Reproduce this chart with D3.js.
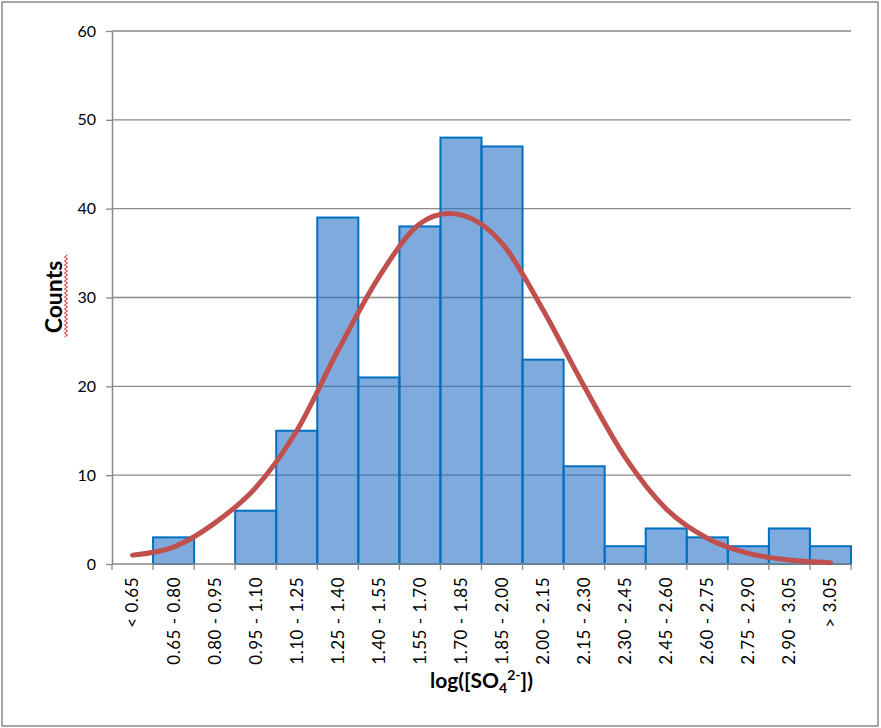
<!DOCTYPE html>
<html>
<head>
<meta charset="utf-8">
<script src="https://cdn.jsdelivr.net/npm/d3@7"></script>
<style>
  html, body { margin: 0; padding: 0; background: #fff; }
  svg { display: block; }
  text { font-family: Lato, "Open Sans", sans-serif; fill: #000; }
</style>
</head>
<body>
<svg id="chart" width="881" height="728"></svg>
<script>
// Histogram bins of log([SO4 2-])
const bins = ["< 0.65", "0.65 - 0.80", "0.80 - 0.95", "0.95 - 1.10", "1.10 - 1.25",
  "1.25 - 1.40", "1.40 - 1.55", "1.55 - 1.70", "1.70 - 1.85", "1.85 - 2.00",
  "2.00 - 2.15", "2.15 - 2.30", "2.30 - 2.45", "2.45 - 2.60", "2.60 - 2.75",
  "2.75 - 2.90", "2.90 - 3.05", "> 3.05"];
// Observed counts per bin
const counts = [0, 3, 0, 6, 15, 39, 21, 38, 48, 47, 23, 11, 2, 4, 3, 2, 4, 2];
// Fitted normal curve evaluated at each bin
const fitted = [1.0, 1.9, 4.6, 8.6, 15.0, 24.0, 32.3, 38.3, 39.3, 36.1,
  28.6, 20.0, 12.0, 6.2, 2.9, 1.2, 0.45, 0.15];
const yTicks = [0, 10, 20, 30, 40, 50, 60];

const svg = d3.select("#chart");
const margin = { left: 112, right: 851, top: 31, bottom: 564 };

const x = d3.scaleBand().domain(bins).range([margin.left, margin.right]).padding(0);
const y = d3.scaleLinear().domain([0, 60]).range([margin.bottom, margin.top]);

const axisGray = "#898989";

// Outer frame
svg.append("rect")
  .attr("x", 2).attr("y", 2).attr("width", 876).attr("height", 724)
  .attr("fill", "none").attr("stroke", "#8a8a8a").attr("stroke-width", 1.5);

// Horizontal gridlines
svg.append("g").selectAll("line")
  .data(yTicks.filter(d => d > 0))
  .join("line")
  .attr("x1", margin.left).attr("x2", margin.right)
  .attr("y1", d => y(d)).attr("y2", d => y(d))
  .attr("stroke", axisGray).attr("stroke-width", 1.3);

// Bars
svg.append("g").selectAll("rect")
  .data(bins.map((b, i) => ({ b, v: counts[i] })).filter(d => d.v > 0))
  .join("rect")
  .attr("x", d => x(d.b))
  .attr("y", d => y(d.v))
  .attr("width", x.bandwidth())
  .attr("height", d => y(0) - y(d.v))
  .attr("fill", "rgb(42,113,200)")
  .attr("fill-opacity", 0.6)
  .attr("stroke", "#0070C0")
  .attr("stroke-width", 2);

// Y axis
const yAxis = svg.append("g")
  .attr("transform", `translate(${margin.left},0)`)
  .call(d3.axisLeft(y).tickValues(yTicks).tickSize(6).tickSizeOuter(0).tickPadding(10));
yAxis.select(".domain").attr("stroke", axisGray).attr("stroke-width", 1.5);
yAxis.selectAll(".tick line").attr("stroke", axisGray).attr("stroke-width", 1.3);
yAxis.selectAll(".tick text")
  .attr("font-size", 16).attr("font-family", "Lato, sans-serif").attr("fill", "#000");

// X axis line and boundary ticks
const xg = svg.append("g");
xg.append("line")
  .attr("x1", margin.left).attr("x2", margin.right)
  .attr("y1", y(0)).attr("y2", y(0))
  .attr("stroke", axisGray).attr("stroke-width", 1.5);
const edges = bins.map(b => x(b)).concat([x(bins[bins.length - 1]) + x.bandwidth()]);
xg.selectAll("line.edge")
  .data(edges)
  .join("line")
  .attr("class", "edge")
  .attr("x1", d => d).attr("x2", d => d)
  .attr("y1", y(0)).attr("y2", y(0) + 6)
  .attr("stroke", axisGray).attr("stroke-width", 1.3);

// Rotated bin labels
xg.selectAll("text")
  .data(bins)
  .join("text")
  .attr("transform", d => `translate(${x(d) + x.bandwidth() / 2},577) rotate(-90)`)
  .attr("text-anchor", "end")
  .attr("dy", "0.35em")
  .attr("font-size", 17)
  .attr("letter-spacing", "0.5px")
  .text(d => d);

// Fitted curve
svg.append("path")
  .datum(fitted)
  .attr("d", d3.line()
    .x((d, i) => x(bins[i]) + x.bandwidth() / 2)
    .y(d => y(d))
    .curve(d3.curveCardinal.tension(0)))
  .attr("fill", "none")
  .attr("stroke", "#C0504D")
  .attr("stroke-width", 5)
  .attr("stroke-linecap", "round")
  .attr("stroke-linejoin", "round");

// Y axis title
svg.append("text")
  .attr("transform", "translate(62,297) rotate(-90)")
  .attr("text-anchor", "middle")
  .attr("font-size", 23)
  .attr("font-weight", "bold")
  .text("Counts");

// Wavy underline beside the y title
const wave = [];
for (let yy = 337, k = 0; yy >= 254; yy -= 2, k++) {
  wave.push([k % 2 === 0 ? 64.5 : 67.5, yy]);
}
svg.append("path")
  .attr("d", d3.line()(wave))
  .attr("fill", "none")
  .attr("stroke", "#e02020")
  .attr("stroke-width", 1);

// X axis title with subscript and superscript
const xt = svg.append("text")
  .attr("x", (margin.left + margin.right) / 2)
  .attr("y", 688)
  .attr("text-anchor", "middle")
  .attr("font-size", 21)
  .attr("font-weight", "bold");
xt.append("tspan").text("log([SO");
xt.append("tspan").attr("font-size", 14).attr("dy", 5).text("4");
xt.append("tspan").attr("font-size", 14).attr("dy", -13).text("2-");
xt.append("tspan").attr("dy", 8).text("])");
</script>
</body>
</html>
